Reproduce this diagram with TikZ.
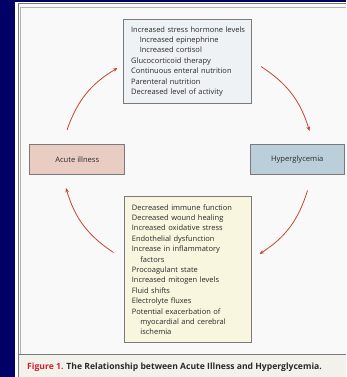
\documentclass[tikz,border=0pt]{standalone}
\usepackage{fontspec}
\setmainfont{Open Sans}
\usetikzlibrary{arrows.meta}
\definecolor{navy}{HTML}{000066}
\definecolor{panel}{HTML}{F9F9F9}
\definecolor{capbg}{HTML}{F3F1EC}
\definecolor{topfill}{HTML}{EEF2F5}
\definecolor{botfill}{HTML}{F8F6DE}
\definecolor{acutefill}{HTML}{E9CDC2}
\definecolor{hyperfill}{HTML}{BBCFDA}
\definecolor{arrowred}{HTML}{C44434}
\definecolor{figred}{HTML}{D4202E}
\definecolor{txt}{HTML}{2A2A2A}
\definecolor{framegray}{HTML}{7A7A7A}
\tikzset{
  boxbase/.style={draw=framegray, line width=0.9pt, text=txt, rectangle},
  listbox/.style={boxbase, anchor=north west, inner xsep=7.4pt, inner ysep=0pt, align=left,
     font=\fontsize{7.5}{10.4}\selectfont},
  smallbox/.style={boxbase, anchor=north west, minimum width=95pt, minimum height=30pt,
     inner sep=0pt, font=\fontsize{7.6}{9}\selectfont},
  cyclearrow/.style={draw=arrowred, line width=0.8pt, -{Stealth[length=4.5pt,width=3.6pt]}, bend left=20}
}
\newcommand{\ind}{\hspace*{8.6pt}}
\begin{document}
\begin{tikzpicture}[x=1pt,y=-1pt]
\useasboundingbox (0,0) rectangle (346,377);
% background and frame
\fill[white] (0,0) rectangle (346,377);
\fill[panel] (19,4) rectangle (346,354.5);
\fill[capbg] (19,354.5) rectangle (346,377);
\fill[navy] (0,0) rectangle (15,377);
\fill[navy] (0,0) rectangle (346,2.2);
\draw[framegray, line width=0.6pt] (18.6,3.8) -- (346,3.8);
\draw[framegray, line width=1.2pt] (18.6,3.5) -- (18.6,377);
\draw[gray!60, line width=1.5pt] (20.2,7.6) -- (346,7.6);
\draw[gray!60, line width=1.2pt] (20.2,7.6) -- (20.2,354.5);
\draw[framegray, line width=0.8pt] (19,354.5) -- (346,354.5);
% boxes
\node[listbox, fill=topfill, text width=112.6pt, minimum height=83.4pt] (top) at (123.3,19.3)
{\mbox{Increased stress hormone levels}\\
\ind Increased epinephrine\\
\ind Increased cortisol\\
Glucocorticoid therapy\\
Continuous enteral nutrition\\
Parenteral nutrition\\
Decreased level of activity};
\node[listbox, fill=botfill, text width=111.9pt, minimum height=146.3pt] (bot) at (124,196)
{Decreased immune function\\
Decreased wound healing\\
Increased oxidative stress\\
Endothelial dysfunction\\
Increase in inflammatory\\
\ind factors\\
Procoagulant state\\
Increased mitogen levels\\
Fluid shifts\\
Electrolyte fluxes\\
Potential exacerbation of\\
\ind myocardial and cerebral\\
\ind ischemia};
\node[smallbox, fill=acutefill] (acute) at (29.3,144.3) {Acute illness};
\node[smallbox, fill=hyperfill, minimum width=93.5pt] (hyper) at (250,144.3) {Hyperglycemia};
% arrow end points
\coordinate (a1) at (67,130);
\coordinate (a2) at (117.5,68);
\coordinate (b1) at (261,66.5);
\coordinate (b2) at (309.5,131);
\coordinate (c1) at (307.5,190.5);
\coordinate (c2) at (259.5,254);
\coordinate (d1) at (113.5,252.5);
\coordinate (d2) at (66,188);
\draw[cyclearrow] (a1) to (a2);
\draw[cyclearrow] (b1) to (b2);
\draw[cyclearrow] (c1) to (c2);
\draw[cyclearrow] (d1) to (d2);
% caption
\node[anchor=west, inner sep=0pt, font=\bfseries\fontsize{8.6}{10}\selectfont, text=txt] (cap) at (27,367)
{\textcolor{figred}{Figure 1.} The Relationship between Acute Illness and Hyperglycemia.};
\end{tikzpicture}
\end{document}
